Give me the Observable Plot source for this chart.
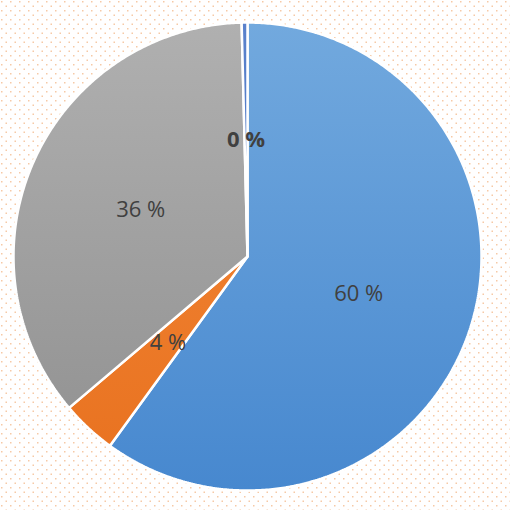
<!DOCTYPE html>
<html>
<head>
<meta charset="utf-8">
<script src="https://cdn.jsdelivr.net/npm/d3@7"></script>
<script src="https://cdn.jsdelivr.net/npm/@observablehq/plot@0.6"></script>
<style>
  html, body { margin: 0; padding: 0; background: #fff; }
  #chart { width: 510px; height: 510px; }
</style>
</head>
<body>
<div id="chart"></div>
<script>
// Data
const categories = ["Série A", "Série B", "Série C", "Série D"];
const values = [60.0, 3.8, 35.8, 0.4];
const labels = ["60 %", "4 %", "36 %", "0 %"];
const labelBold = [false, false, false, true];
const gradTop = ["#72a9de", "#f48a3a", "#b0b0b0", "#5a82cc"];
const gradBottom = ["#4788cf", "#e8711f", "#8f8f8f", "#3d68b8"];

const pie = d3.pie().sort(null).value(d => d)(values);
const arcGen = d3.arc().innerRadius(0).outerRadius(1);

// polygon points for each slice in unit data space (angle 0 at top, clockwise)
const sliceData = pie.map((p, i) => {
  const n = Math.max(2, Math.ceil((p.endAngle - p.startAngle) / (Math.PI / 180) * 2));
  const pts = [{x: 0, y: 0, slice: categories[i]}];
  for (let k = 0; k <= n; k++) {
    const a = p.startAngle + (p.endAngle - p.startAngle) * k / n;
    pts.push({x: Math.sin(a), y: Math.cos(a), slice: categories[i]});
  }
  pts.push({x: 0, y: 0, slice: categories[i]});
  return pts;
});

const labelData = pie.map((p, i) => {
  const [cx, cy] = arcGen.centroid(p);
  return {x: cx, y: -cy, label: labels[i], bold: labelBold[i]};
});

const W = 510, H = 510;
const cxPx = 247, cyPx = 256, R = 234;

const marks = [];
sliceData.forEach((pts, i) => {
  marks.push(Plot.line(pts, {
    x: "x", y: "y", fill: `url(#grad${i})`, stroke: "white",
    strokeWidth: 2.5, strokeLinejoin: "miter", curve: "linear"
  }));
});
marks.push(Plot.text(labelData.filter(d => !d.bold), {
  x: "x", y: "y", text: "label", fill: "#404040", fontSize: 22, dy: 1,
  fontFamily: "Open Sans, sans-serif"
}));
marks.push(Plot.text(labelData.filter(d => d.bold), {
  x: "x", y: "y", text: "label", fill: "#404040", fontSize: 22, dy: 0,
  fontWeight: "bold", fontFamily: "Open Sans, sans-serif"
}));

const chart = Plot.plot({
  width: W, height: H,
  marginLeft: cxPx - R, marginRight: W - cxPx - R,
  marginTop: cyPx - R, marginBottom: H - cyPx - R,
  x: {domain: [-1, 1], axis: null},
  y: {domain: [-1, 1], axis: null},
  style: {background: "transparent", overflow: "visible"},
  marks
});

// gradient + background pattern defs
const ns = "http://www.w3.org/2000/svg";
const defs = document.createElementNS(ns, "defs");
let html = `<pattern id="dots" width="9" height="9" patternUnits="userSpaceOnUse">
  <rect x="1" y="1" width="1.5" height="1.5" fill="#f6c9a6"/>
  <rect x="5.5" y="5.5" width="1.5" height="1.5" fill="#f6c9a6"/>
</pattern>`;
gradTop.forEach((c, i) => {
  html += `<linearGradient id="grad${i}" gradientUnits="userSpaceOnUse" x1="0" y1="${cyPx - R}" x2="0" y2="${cyPx + R}">
    <stop offset="0" stop-color="${c}"/><stop offset="1" stop-color="${gradBottom[i]}"/></linearGradient>`;
});
defs.innerHTML = html;
chart.insertBefore(defs, chart.firstChild);
const bg = document.createElementNS(ns, "rect");
bg.setAttribute("x", 0); bg.setAttribute("y", 0);
bg.setAttribute("width", W); bg.setAttribute("height", H);
bg.setAttribute("fill", "url(#dots)");
defs.after(bg);

document.getElementById("chart").appendChild(chart);
</script>
</body>
</html>
